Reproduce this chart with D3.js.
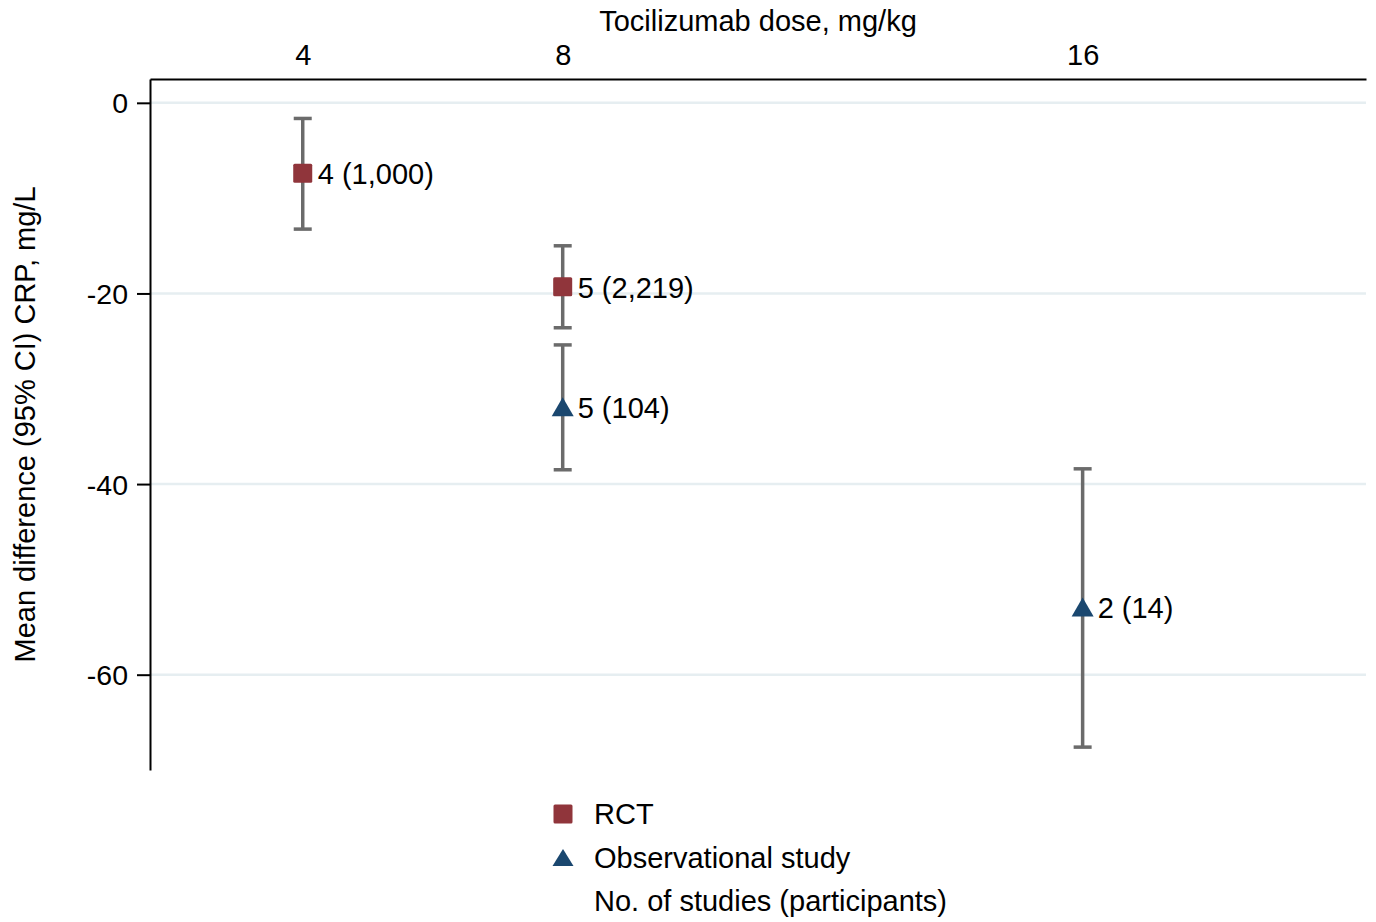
<!DOCTYPE html>
<html>
<head>
<meta charset="utf-8">
<script src="https://cdn.jsdelivr.net/npm/d3@7"></script>
<style>
  body { margin: 0; background: #fff; }
  svg text { font-family: "Liberation Sans", Arial, sans-serif; fill: #000; }
</style>
</head>
<body>
<svg id="chart"></svg>
<script>
let width = 1376, height = 922;
let margin = {top: 79, right: 10, bottom: 152, left: 150};

// data
let doses = [4, 8, 8, 16];
let design = ["RCT", "RCT", "Observational study", "Observational study"];
let meanDiff = [-7.4, -19.3, -31.9, -52.9];
let ciLow = [-13.25, -23.6, -38.5, -67.6];
let ciHigh = [-1.64, -15.0, -25.4, -38.4];
let pointLabels = ["4 (1,000)", "5 (2,219)", "5 (104)", "2 (14)"];
let doseTicks = [4, 8, 16];
let diffTicks = [0, -20, -40, -60];
let legendItems = ["RCT", "Observational study"];
let legendNote = "No. of studies (participants)";

let colors = {"RCT": "#90353b", "Observational study": "#1a476f"};
let ciColor = "#6b6b6b";
let gridColor = "#e6eef1";

let svg = d3.select("#chart")
  .attr("width", width)
  .attr("height", height);

let x = d3.scaleLinear()
  .domain([1.65, 20.36])
  .range([margin.left, width - margin.right]);

let y = d3.scaleLinear()
  .domain([-70, 2.5])
  .range([height - margin.bottom, margin.top]);

// gridlines
svg.append("g")
  .selectAll("line")
  .data(diffTicks)
  .enter().append("line")
    .attr("x1", x.range()[0])
    .attr("x2", x.range()[1])
    .attr("y1", d => y(d))
    .attr("y2", d => y(d))
    .attr("stroke", gridColor)
    .attr("stroke-width", 2.5);

// left axis
let yAxis = svg.append("g")
  .attr("transform", "translate(" + margin.left + ",0)")
  .call(d3.axisLeft(y).tickValues(diffTicks).tickSize(13).tickSizeOuter(0).tickPadding(9)
    .tickFormat(d => d === 0 ? "0" : "-" + Math.abs(d)));
yAxis.select(".domain").attr("stroke", "#000").attr("stroke-width", 2);
yAxis.selectAll(".tick line").attr("stroke", "#000").attr("stroke-width", 2);
yAxis.selectAll(".tick text").style("font-size", "28.5px").attr("dy", "0.35em");

// top axis
let xAxis = svg.append("g")
  .attr("transform", "translate(0," + margin.top + ")")
  .call(d3.axisTop(x).tickValues(doseTicks).tickSize(0).tickSizeOuter(0).tickPadding(14));
xAxis.select(".domain").attr("stroke", "#000").attr("stroke-width", 2);
xAxis.selectAll(".tick text").style("font-size", "29px");

// axis titles
svg.append("text")
  .attr("x", (x.range()[0] + x.range()[1]) / 2)
  .attr("y", 31)
  .attr("text-anchor", "middle")
  .style("font-size", "29px")
  .text("Tocilizumab dose, mg/kg");

svg.append("text")
  .attr("transform", "translate(35," + (y.range()[0] + y.range()[1]) / 2 + ") rotate(-90)")
  .attr("text-anchor", "middle")
  .style("font-size", "29px")
  .text("Mean difference (95% CI) CRP, mg/L");

let idx = d3.range(doses.length);
let capHalf = 9;

// error bars
let bars = svg.append("g")
  .attr("stroke", ciColor)
  .attr("stroke-width", 3.5);
bars.selectAll(".ci")
  .data(idx)
  .enter().append("line")
    .attr("x1", i => x(doses[i]))
    .attr("x2", i => x(doses[i]))
    .attr("y1", i => y(ciLow[i]))
    .attr("y2", i => y(ciHigh[i]));
bars.selectAll(".capLow")
  .data(idx)
  .enter().append("line")
    .attr("x1", i => x(doses[i]) - capHalf)
    .attr("x2", i => x(doses[i]) + capHalf)
    .attr("y1", i => y(ciLow[i]))
    .attr("y2", i => y(ciLow[i]));
bars.selectAll(".capHigh")
  .data(idx)
  .enter().append("line")
    .attr("x1", i => x(doses[i]) - capHalf)
    .attr("x2", i => x(doses[i]) + capHalf)
    .attr("y1", i => y(ciHigh[i]))
    .attr("y2", i => y(ciHigh[i]));

// markers
const drawMarker = (sel, kind, cx, cy, sq, tw, th) => {
  if (kind === "RCT") {
    sel.append("rect")
      .attr("x", cx - sq / 2)
      .attr("y", cy - sq / 2)
      .attr("width", sq)
      .attr("height", sq)
      .attr("rx", 1.5)
      .attr("fill", colors[kind]);
  } else {
    let p = d3.path();
    p.moveTo(cx, cy - th / 2);
    p.lineTo(cx + tw / 2, cy + th / 2);
    p.lineTo(cx - tw / 2, cy + th / 2);
    p.closePath();
    sel.append("path")
      .attr("d", p.toString())
      .attr("fill", colors[kind]);
  }
};

let marks = svg.append("g");
idx.forEach(i => drawMarker(marks, design[i], x(doses[i]), y(meanDiff[i]), 19, 22, 19));

svg.append("g")
  .selectAll("text")
  .data(idx)
  .enter().append("text")
    .attr("x", i => x(doses[i]) + 15)
    .attr("y", i => y(meanDiff[i]))
    .attr("dy", "0.38em")
    .style("font-size", "29px")
    .text(i => pointLabels[i]);

// legend
let legend = svg.append("g");
let legendX = 563, legendY = 814, legendStep = 43.5;
legendItems.forEach((d, i) => {
  drawMarker(legend, d, legendX, legendY + i * legendStep, 19, 21, 17);
  legend.append("text")
    .attr("x", legendX + 31)
    .attr("y", legendY + i * legendStep)
    .attr("dy", "0.36em")
    .style("font-size", "29px")
    .text(d);
});
legend.append("text")
  .attr("x", legendX + 31)
  .attr("y", legendY + 2 * legendStep)
  .attr("dy", "0.36em")
  .style("font-size", "29px")
  .text(legendNote);
</script>
</body>
</html>
